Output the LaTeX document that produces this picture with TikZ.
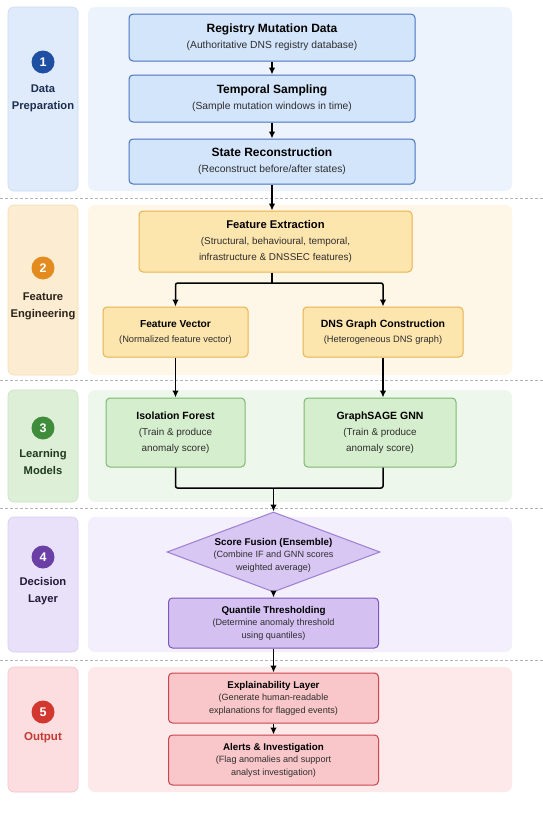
\documentclass[tikz,border=0pt]{standalone}
\usepackage{fontspec}
\setmainfont{Liberation Sans}
\usetikzlibrary{shapes.geometric,arrows.meta}
\definecolor{bBox}{HTML}{D3E5FB}\definecolor{bDraw}{HTML}{4772C0}
\definecolor{bPan}{HTML}{EDF3FD}\definecolor{bLeft}{HTML}{DFEBFB}\definecolor{bLeftD}{HTML}{C9DBF4}
\definecolor{bCirc}{HTML}{1F4FA3}\definecolor{bTxt}{HTML}{1D2D50}
\definecolor{oBox}{HTML}{FDE5AE}\definecolor{oDraw}{HTML}{E9B34F}
\definecolor{oPan}{HTML}{FEF6E6}\definecolor{oLeft}{HTML}{FCECD2}\definecolor{oLeftD}{HTML}{F6DDB5}
\definecolor{oCirc}{HTML}{E38B1F}\definecolor{oTxt}{HTML}{2B2418}
\definecolor{gBox}{HTML}{D5EECD}\definecolor{gDraw}{HTML}{7DB872}
\definecolor{gPan}{HTML}{EEF7EB}\definecolor{gLeft}{HTML}{DDEFD7}\definecolor{gLeftD}{HTML}{C8E4C0}
\definecolor{gCirc}{HTML}{3F8C3B}\definecolor{gTxt}{HTML}{1F3A1E}
\definecolor{pDia}{HTML}{D8C6F3}\definecolor{pDiaD}{HTML}{9C7FD2}
\definecolor{pBox}{HTML}{D4C1F2}\definecolor{pDraw}{HTML}{7C58B8}
\definecolor{pPan}{HTML}{F3EFFC}\definecolor{pLeft}{HTML}{E9E1F9}\definecolor{pLeftD}{HTML}{D9CDF1}
\definecolor{pCirc}{HTML}{6A3FA6}\definecolor{pTxt}{HTML}{221A38}
\definecolor{rBox}{HTML}{F9C7CA}\definecolor{rDraw}{HTML}{C8464D}
\definecolor{rPan}{HTML}{FDE8EA}\definecolor{rLeft}{HTML}{FCDDE0}\definecolor{rLeftD}{HTML}{F4C6CB}
\definecolor{rCirc}{HTML}{D2382F}\definecolor{rTxt}{HTML}{C33A32}
\definecolor{sepC}{HTML}{B5B5B5}\definecolor{subC}{HTML}{2E2E2E}
\begin{document}
\begin{tikzpicture}[x=1pt,y=-1pt,
  lpanel/.style={rectangle,rounded corners=6pt,minimum width=70pt,inner sep=0pt,line width=0.6pt},
  rpanel/.style={rectangle,rounded corners=7pt,minimum width=424pt,inner sep=0pt},
  box/.style={rectangle,rounded corners=4pt,line width=1pt,inner sep=0pt,align=center,text=black},
  circ/.style={circle,minimum size=23pt,inner sep=0pt,text=white,font=\fontsize{12.5}{12.5}\selectfont\bfseries},
  lbl/.style={align=center,font=\fontsize{11.2}{17}\selectfont\bfseries},
  sep/.style={sepC,dashed,dash pattern=on 3pt off 2pt,line width=0.7pt},
  arr/.style={-{Latex[length=7pt,width=6.5pt]},line width=1.5pt,black},
  ln/.style={line width=1.5pt,black,rounded corners=2pt},
  fA/.style={font=\fontsize{10.3}{16}\selectfont},
  fB/.style={font=\fontsize{9.9}{16}\selectfont},
  fC/.style={font=\fontsize{9.3}{15}\selectfont},
  fD/.style={font=\fontsize{9.1}{12.5}\selectfont}
]
\useasboundingbox (0,0) rectangle (543,814);
\fill[white] (0,0) rectangle (543,814);

% ---------- panels ----------
\node[lpanel,fill=bLeft,draw=bLeftD,minimum height=184pt] (lp1) at (43,99) {};
\node[rpanel,fill=bPan,minimum height=184pt] (rp1) at (300,99) {};
\node[lpanel,fill=oLeft,draw=oLeftD,minimum height=170pt] (lp2) at (43,290) {};
\node[rpanel,fill=oPan,minimum height=170pt] (rp2) at (300,290) {};
\node[lpanel,fill=gLeft,draw=gLeftD,minimum height=112pt] (lp3) at (43,446) {};
\node[rpanel,fill=gPan,minimum height=112pt] (rp3) at (300,446) {};
\node[lpanel,fill=pLeft,draw=pLeftD,minimum height=135pt] (lp4) at (43,584.5) {};
\node[rpanel,fill=pPan,minimum height=135pt] (rp4) at (300,584.5) {};
\node[lpanel,fill=rLeft,draw=rLeftD,minimum height=125pt] (lp5) at (43,729.5) {};
\node[rpanel,fill=rPan,minimum height=125pt] (rp5) at (300,729.5) {};

% ---------- separators ----------
\draw[sep] (0,198.5) -- (543,198.5);
\draw[sep] (0,380) -- (543,380);
\draw[sep] (0,508.5) -- (543,508.5);
\draw[sep] (0,660) -- (543,660);

% ---------- section labels ----------
\node[circ,fill=bCirc] (c1) at (43,62) {1};
\node[lbl,text=bTxt,anchor=north] (l1) at (43,81) {Data\\Preparation};
\node[circ,fill=oCirc] (c2) at (43,268) {2};
\node[lbl,text=oTxt,anchor=north] (l2) at (43,289) {Feature\\Engineering};
\node[circ,fill=gCirc] (c3) at (43,428) {3};
\node[lbl,text=gTxt,anchor=north] (l3) at (43,446) {Learning\\Models};
\node[circ,fill=pCirc] (c4) at (43,557) {4};
\node[lbl,text=pTxt,anchor=north] (l4) at (43,574) {Decision\\Layer};
\node[circ,fill=rCirc] (c5) at (43,712) {5};
\node[lbl,text=rTxt,font=\fontsize{11.5}{17}\selectfont\bfseries,anchor=north] (l5) at (43,729) {Output};

% ---------- section 1 ----------
\node[box,fill=bBox,draw=bDraw,minimum width=286pt,minimum height=47pt,fA] (reg) at (272,37.5)
  {{\fontsize{12}{16}\selectfont\bfseries Registry Mutation Data}\\ \color{subC}(Authoritative DNS registry database)};
\node[box,fill=bBox,draw=bDraw,minimum width=286pt,minimum height=47pt,fA] (temp) at (272,98.5)
  {{\fontsize{12}{16}\selectfont\bfseries Temporal Sampling}\\ \color{subC}(Sample mutation windows in time)};
\node[box,fill=bBox,draw=bDraw,minimum width=286pt,minimum height=45pt,fA] (state) at (272,161.5)
  {{\fontsize{12}{16}\selectfont\bfseries State Reconstruction}\\ \color{subC}(Reconstruct before/after states)};

% ---------- section 2 ----------
\node[box,fill=oBox,draw=oDraw,minimum width=273pt,minimum height=61pt,fB] (fe) at (275.5,241.5)
  {{\fontsize{11.2}{16}\selectfont\bfseries Feature Extraction}\\ \color{subC}(Structural, behavioural, temporal,\\ \color{subC}infrastructure \& DNSSEC features)};
\node[box,fill=oBox,draw=oDraw,minimum width=145pt,minimum height=50pt,fC] (fv) at (175.5,332)
  {{\fontsize{10.2}{15}\selectfont\bfseries Feature Vector}\\ \color{subC}(Normalized feature vector)};
\node[box,fill=oBox,draw=oDraw,minimum width=160pt,minimum height=50pt,fC] (dns) at (383,332)
  {{\fontsize{10.5}{15}\selectfont\bfseries DNS Graph Construction}\\ \color{subC}(Heterogeneous DNS graph)};

% ---------- section 3 ----------
\node[box,fill=gBox,draw=gDraw,minimum width=139pt,minimum height=69pt,fB] (iso) at (175.5,432.5)
  {{\fontsize{10.5}{17}\selectfont\bfseries Isolation Forest}\\ \color{subC}(Train \& produce\\ \color{subC}anomaly score)};
\node[box,fill=gBox,draw=gDraw,minimum width=152pt,minimum height=69pt,fB] (gsage) at (380,432.5)
  {{\fontsize{10.5}{17}\selectfont\bfseries GraphSAGE GNN}\\ \color{subC}(Train \& produce\\ \color{subC}anomaly score)};

% ---------- section 4 ----------
\node[diamond,fill=pDia,draw=pDiaD,line width=1pt,minimum width=213pt,minimum height=80pt,inner sep=0pt] (fusion) at (273.5,552) {};
\node[align=center,fD,inner sep=0pt] (fusiontxt) at (273.5,555)
  {{\fontsize{9.8}{12.5}\selectfont\bfseries Score Fusion (Ensemble)}\\ \color{subC}(Combine IF and GNN scores\\ \color{subC}weighted average)};
\node[box,fill=pBox,draw=pDraw,minimum width=210pt,minimum height=50pt,fD] (quant) at (273.5,623)
  {{\fontsize{9.8}{13}\selectfont\bfseries Quantile Thresholding}\\ \color{subC}(Determine anomaly threshold\\ \color{subC}using quantiles)};

% ---------- section 5 ----------
\node[box,fill=rBox,draw=rDraw,minimum width=210pt,minimum height=50pt,fD] (expl) at (273.5,698)
  {{\fontsize{9.8}{13}\selectfont\bfseries Explainability Layer}\\ \color{subC}(Generate human-readable\\ \color{subC}explanations for flagged events)};
\node[box,fill=rBox,draw=rDraw,minimum width=210pt,minimum height=50pt,fD] (alerts) at (273.5,760)
  {{\fontsize{9.8}{13}\selectfont\bfseries Alerts \& Investigation}\\ \color{subC}(Flag anomalies and support\\ \color{subC}analyst investigation)};

% ---------- connectors ----------
\draw[arr] (reg) -- (temp);
\draw[arr] (temp) -- (state);
\draw[arr] (state.south) -- (state.south |- fe.north);
\coordinate (fork) at (272,283);
\draw[ln] (state.south |- fe.south) -- (fork);
\draw[arr,rounded corners=2pt] (fork) -| (fv.north);
\draw[arr,rounded corners=2pt] (fork) -| (dns.north);
\draw[arr] (fv.south) -- (fv.south |- iso.north);
\draw[arr] (dns.south) -- (dns.south |- gsage.north);
\coordinate (merge) at (273.5,488);
\draw[ln] (iso.south) |- (merge);
\draw[ln] (dns.south |- gsage.south) |- (merge);
\draw[arr] (merge) -- (fusion.north);
\draw[arr] (fusion) -- (quant);
\draw[arr] (quant) -- (expl);
\draw[arr] (expl) -- (alerts);
\end{tikzpicture}
\end{document}
